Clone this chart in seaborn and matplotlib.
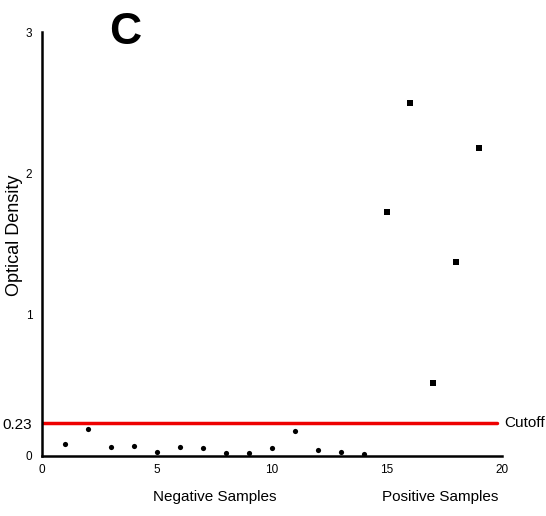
import matplotlib
matplotlib.use("Agg")
import matplotlib.pyplot as plt
import seaborn as sns
import pandas as pd

neg_x = [1, 2, 3, 4, 5, 6, 7, 8, 9, 10, 11, 12, 13, 14]
neg_od = [0.086, 0.19, 0.067, 0.074, 0.03, 0.067, 0.059, 0.022, 0.022, 0.059, 0.175, 0.044, 0.03, 0.012]
pos_x = [15, 16, 17, 18, 19]
pos_od = [1.727, 2.498, 0.517, 1.373, 2.18]
cutoff = 0.23
yticks = [0, 0.23, 1, 2, 3]
ytick_labels = ["0", "0.23", "1", "2", "3"]
xticks = [0, 5, 10, 15, 20]

sns.set_style("white")
plt.rcParams['font.family'] = ['Liberation Sans Narrow', 'Liberation Sans', 'DejaVu Sans']
plt.rcParams['text.color'] = 'black'
plt.rcParams['xtick.color'] = 'black'
plt.rcParams['ytick.color'] = 'black'
plt.rcParams['axes.labelcolor'] = 'black'

neg = pd.DataFrame({"x": neg_x, "od": neg_od})
pos = pd.DataFrame({"x": pos_x, "od": pos_od})

fig = plt.figure(figsize=(5.46, 5.16), dpi=100)
ax = fig.add_axes([42/546, 60/516, 460/546, 424/516])

sns.scatterplot(data=neg, x="x", y="od", ax=ax, marker="o", s=14, color="black", edgecolor="black", linewidth=0)
sns.scatterplot(data=pos, x="x", y="od", ax=ax, marker="s", s=16, color="black", edgecolor="black", linewidth=0)

ax.axhline(cutoff, xmin=0, xmax=0.99, color="#ee0000", lw=2.5, zorder=1)
ax.text(1.005, cutoff, "Cutoff", transform=ax.get_yaxis_transform(), va="center", ha="left",
        fontsize=11, family=['Liberation Sans', 'DejaVu Sans'])

ax.set_xlim(0, 20)
ax.set_ylim(0, 3)
ax.set_xticks(xticks)
ax.set_xticklabels([str(t) for t in xticks])
ax.set_yticks(yticks)
ax.set_yticklabels(ytick_labels)
ax.tick_params(axis="both", direction="out", length=4, width=1.5, labelsize=8.5, pad=2, color="black")
ax.tick_params(axis="y", length=5)
for lbl in ax.get_yticklabels():
    if lbl.get_text() == "0.23":
        lbl.set_fontsize(11)
for s in ["top", "right"]:
    ax.spines[s].set_visible(False)
for s in ["left", "bottom"]:
    ax.spines[s].set_linewidth(1.8)
    ax.spines[s].set_color("black")

ax.set_xlabel("")
ax.set_ylabel("Optical Density", fontsize=13, family=['Liberation Sans', 'DejaVu Sans'])
ax.yaxis.set_label_coords(-19/460, 0.521)

fig.text(215/546, 1 - 497/516, "Negative Samples", ha="center", va="center", fontsize=11,
         family=['Liberation Sans', 'DejaVu Sans'])
fig.text(440/546, 1 - 497/516, "Positive Samples", ha="center", va="center", fontsize=11,
         family=['Liberation Sans', 'DejaVu Sans'])
fig.text(125/546, 1 - 32/516, "C", ha="center", va="center", fontsize=32, fontweight="bold",
         family=['Liberation Sans', 'DejaVu Sans'])

fig.savefig("out.png", dpi=100, facecolor="white")
